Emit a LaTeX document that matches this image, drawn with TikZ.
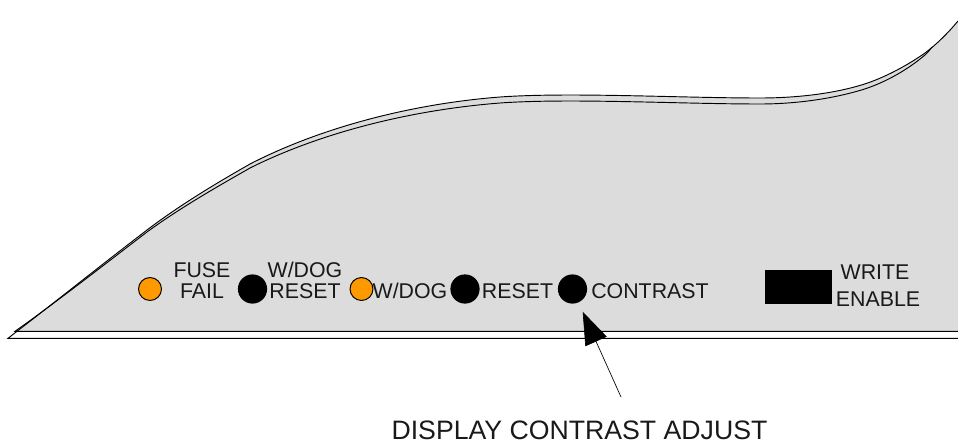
\documentclass[tikz,border=0pt]{standalone}
\usepackage{fontspec}
\setmainfont{Liberation Sans}
\usetikzlibrary{arrows.meta}
\definecolor{panelgrey}{HTML}{DCDCDC}
\definecolor{ledorange}{HTML}{FF9900}
\tikzset{
  edgeline/.style={draw=black,line width=0.7pt},
  led/.style={circle,draw=black,line width=0.75pt,fill=ledorange,inner sep=0pt,minimum size=17.2pt},
  knob/.style={circle,fill=black,inner sep=0pt,minimum size=21.9pt},
  lbl/.style={font=\fontsize{16pt}{16pt}\selectfont,anchor=base,inner sep=0pt,text=black!90},
  biglbl/.style={font=\fontsize{20pt}{20pt}\selectfont,anchor=base,inner sep=0pt,text=black!90},
  pointer/.style={line width=0.5pt,-{Triangle[length=24.5pt,width=17.5pt]},shorten >=7.5pt}
}
\begin{document}
\begin{tikzpicture}[x=0.75pt,y=-0.75pt]
\useasboundingbox (0,0) rectangle (958,443);
% panel fill
\fill[panelgrey] (15,331) -- (15,333) .. controls (55,303) and (100,266) .. (147,230)
  .. controls (180,205) and (215,184) .. (250,164)
  .. controls (320,128) and (410,104) .. (500,97)
  .. controls (570,92) and (680,98) .. (760,98)
  .. controls (795,98) and (830,94) .. (858,86)
  .. controls (880,80) and (905,67) .. (925,53)
  .. controls (937,44) and (948,33) .. (958,21) -- (958,331) -- cycle;
% outer edge
\draw[edgeline] (958,338.3) -- (8,338.3) .. controls (50,306) and (100,266) .. (147,230)
  .. controls (180,205) and (215,184) .. (250,164)
  .. controls (320,128) and (410,104) .. (500,97)
  .. controls (570,92) and (680,98) .. (760,98)
  .. controls (795,98) and (830,94) .. (858,86)
  .. controls (880,80) and (905,67) .. (925,53)
  .. controls (937,44) and (948,33) .. (958,21);
% inner edge
\draw[edgeline] (958,331.3) -- (15,331.3) .. controls (55,303) and (100,268) .. (147,232)
  .. controls (180,208) and (215,188) .. (250,168)
  .. controls (320,133) and (410,110) .. (500,103)
  .. controls (570,98) and (680,104) .. (760,104)
  .. controls (795,104) and (830,99) .. (858,91)
  .. controls (880,85) and (905,72) .. (925,55)
  .. controls (928,52) and (930,50) .. (932,47);
% LEDs and knobs
\node[led] (fuseled) at (150,289) {};
\node[knob] (wdogreset) at (252.5,289) {};
\node[led] (wdogled) at (361.5,289) {};
\node[knob] (reset) at (465,289) {};
\node[knob] (contrast) at (572.5,289) {};
\node[fill=black,inner sep=0pt,minimum width=50.2pt,minimum height=24.8pt] (writeen) at (798.5,287) {};
% labels
\node[lbl] (t1) at (202,277) {FUSE};
\node[lbl] (t2) at (202,298) {FAIL};
\node[lbl] (t3) at (305,277) {W/DOG};
\node[lbl] (t4) at (305,298) {RESET};
\node[lbl] (t5) at (410,298) {W/DOG};
\node[lbl] (t6) at (517.5,298) {RESET};
\node[lbl] (t7) at (650,298) {CONTRAST};
\node[lbl] (t8) at (875,279) {WRITE};
\node[lbl] (t9) at (878,306) {ENABLE};
\node[biglbl] (t10) at (579.5,439.5) {DISPLAY CONTRAST ADJUST};
% pointer
\coordinate (src) at (621,397);
\draw[pointer] (src) -- (contrast);
\end{tikzpicture}
\end{document}
